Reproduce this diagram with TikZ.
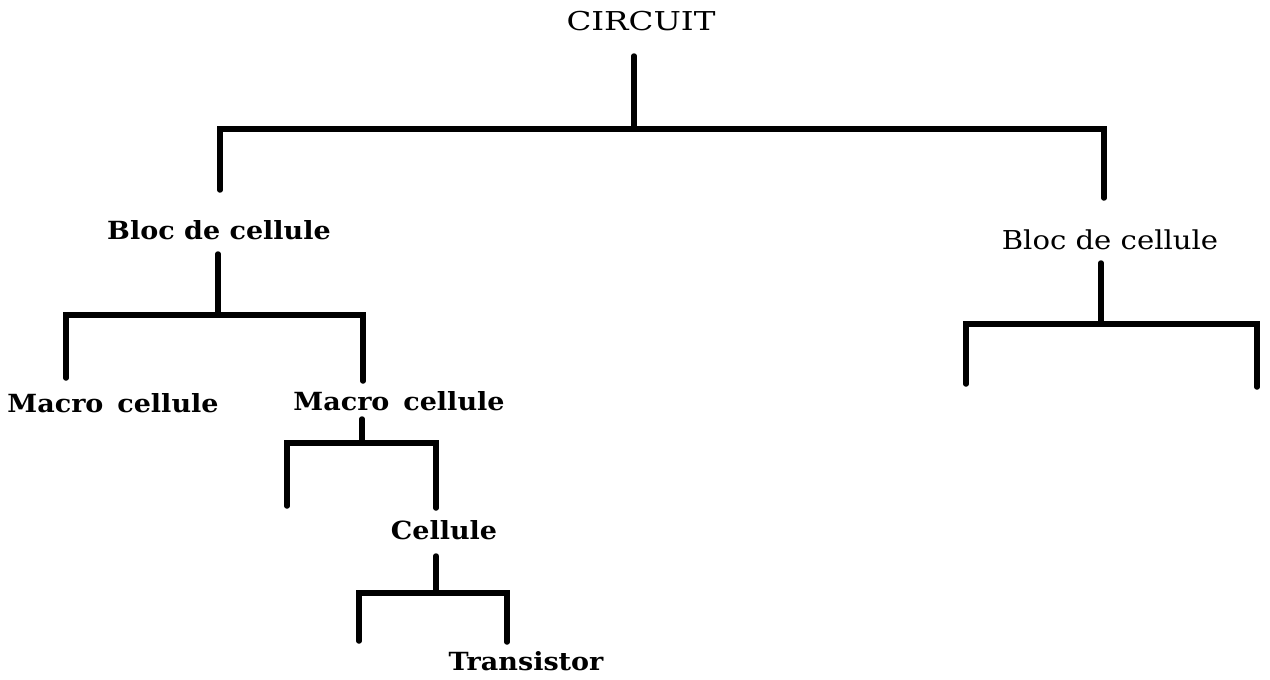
\documentclass[tikz,border=0pt]{standalone}
\usepackage{graphicx}
\usepackage{fontspec}
\setmainfont{DejaVu Serif}
\usetikzlibrary{positioning}

\tikzset{
  branch/.style={line width=5.5pt, line cap=round, line join=miter},
  boldlab/.style={font=\fontsize{25}{30}\selectfont\bfseries, inner sep=0pt},
  lab/.style={font=\fontsize{26}{31}\selectfont, inner sep=0pt},
}
\newcommand{\widebf}[1]{\scalebox{1.08}[1]{#1}}
\newcommand{\widemd}[2][1.12]{\scalebox{#1}[1]{#2}}

\begin{document}
\begin{tikzpicture}[x=1pt,y=-1pt]
    \useasboundingbox (0,0) rectangle (1270,680);

    % Labels
    \node[lab] (circ) at (641,21) {\widemd[1.25]{CIRCUIT}};
    \node[boldlab] (blocL) at (219,230) {\widebf{Bloc de cellule}};
    \node[lab] (blocR) at (1110,240) {\widemd{Bloc de cellule}};
    \node[boldlab] (macroL) at (113,403) {\widebf{Macro\, cellule}};
    \node[boldlab] (macroM) at (399,401) {\widebf{Macro\, cellule}};
    \node[boldlab] (cell) at (444,530) {\widebf{Cellule}};
    \node[boldlab] (trans) at (526,661) {\widebf{Transistor}};

    % Stems, junctions and feet
    \coordinate (s0) at (634,56);   \coordinate (j0) at (634,129);
    \coordinate (f0a) at (220,190); \coordinate (f0b) at (1104,198);
    \coordinate (s1) at (218,254);  \coordinate (j1) at (218,315);
    \coordinate (f1a) at (66,378);  \coordinate (f1b) at (363,381);
    \coordinate (s2) at (362,419);  \coordinate (j2) at (362,443);
    \coordinate (f2a) at (287,506); \coordinate (f2b) at (436,508);
    \coordinate (s3) at (436,556);  \coordinate (j3) at (436,593);
    \coordinate (f3a) at (359,641); \coordinate (f3b) at (507,642);
    \coordinate (s4) at (1101,263); \coordinate (j4) at (1101,324);
    \coordinate (f4a) at (966,384); \coordinate (f4b) at (1257,387);

    % Branches
    \foreach \i in {0,...,4} {
        \draw[branch] (s\i) -- (j\i);
        \draw[branch] (f\i a) -- (f\i a |- j\i) -- (f\i b |- j\i) -- (f\i b);
    }
\end{tikzpicture}
\end{document}
